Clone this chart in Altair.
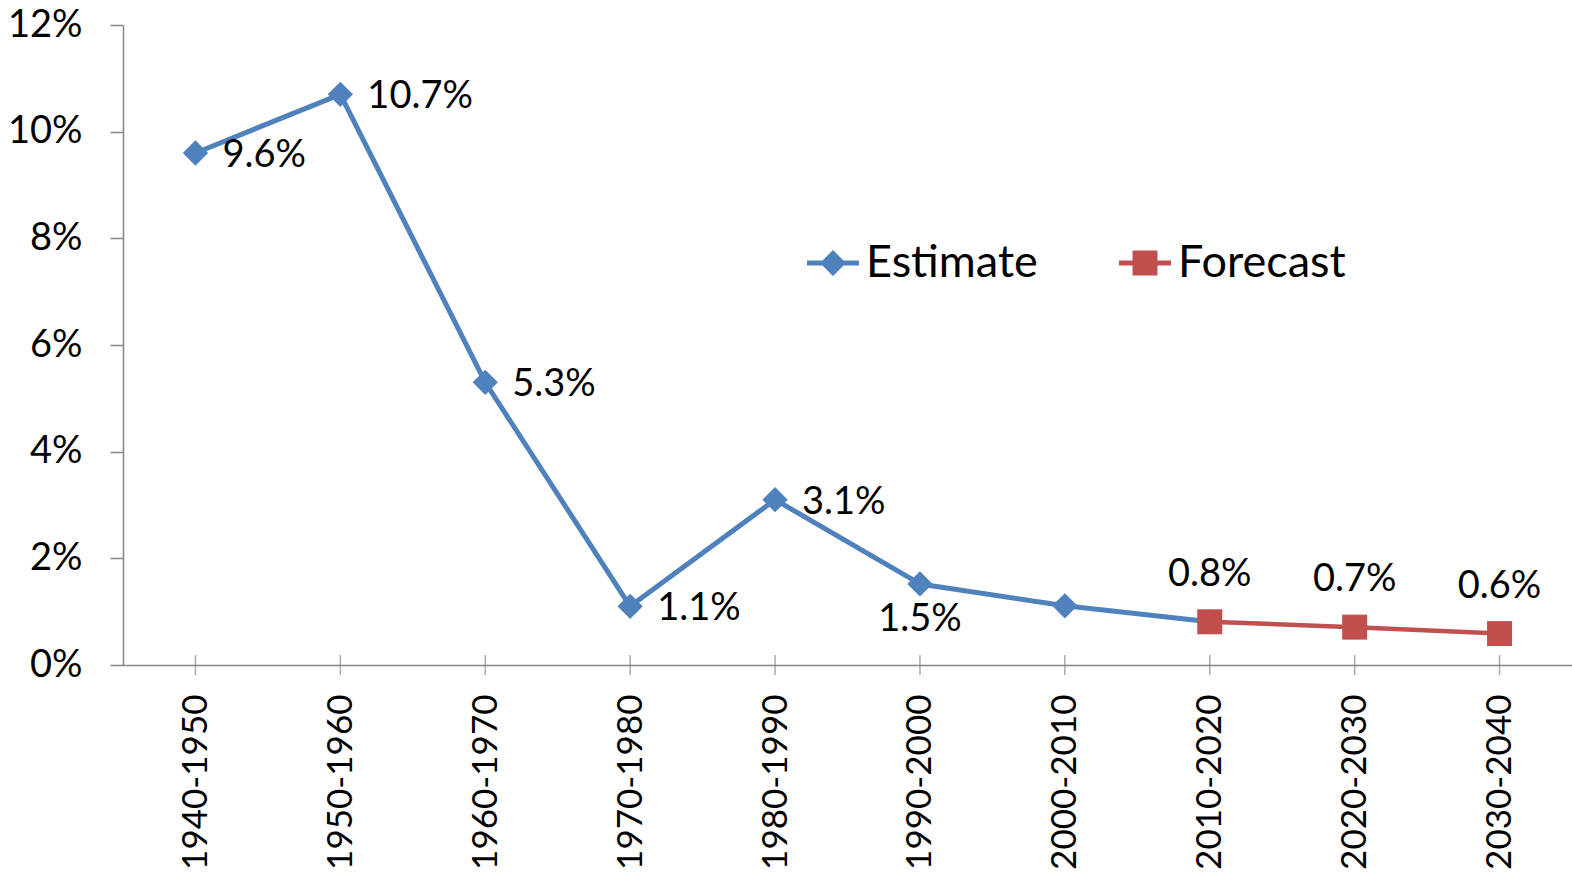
import altair as alt
import pandas as pd

categories = ["1940-1950", "1950-1960", "1960-1970", "1970-1980", "1980-1990",
              "1990-2000", "2000-2010", "2010-2020", "2020-2030", "2030-2040"]
estimate_categories = categories[:8]
estimate_values = [9.6, 10.7, 5.3, 1.1, 3.1, 1.52, 1.11, 0.81]
forecast_categories = categories[7:]
forecast_values = [0.81, 0.71, 0.59]

labels_right = categories[:5]
labels_below = ["1990-2000"]
labels_above = forecast_categories

BLUE = "#4F81BD"
RED = "#C0504D"
GRAY = "#868686"
FONT = "Lato"

est_df = pd.DataFrame({"category": estimate_categories, "value": estimate_values, "series": "Estimate"})
fc_df = pd.DataFrame({"category": forecast_categories, "value": forecast_values, "series": "Forecast"})
all_df = pd.concat([est_df.iloc[:-1], fc_df], ignore_index=True)

x_enc = alt.X(
    "category:N", sort=categories,
    scale=alt.Scale(type="point", padding=0.5, domain=categories),
    axis=alt.Axis(title=None, labelAngle=270, labelFont=FONT, labelFontSize=35,
                  labelColor="black", ticks=False, labelPadding=29, labelLimit=400,
                  domainColor=GRAY, domainWidth=1.5, grid=False),
)
y_enc = alt.Y(
    "value:Q",
    scale=alt.Scale(domain=[0, 12], nice=False, zero=True),
    axis=alt.Axis(title=None, values=[0, 2, 4, 6, 8, 10, 12], labelExpr="datum.value + '%'",
                  labelFont=FONT, labelFontSize=38, labelColor="black",
                  tickSize=13, tickColor=GRAY, tickWidth=1.5, labelPadding=28,
                  domainColor=GRAY, domainWidth=1.5, grid=False),
)

EST_PATH = "M-1,-0.1L1,-0.1L1,0.1L-1,0.1Z M-0.5,0L0,-0.5L0.5,0L0,0.5Z"
FC_PATH = "M-1,-0.1L1,-0.1L1,0.1L-1,0.1Z M-0.48,-0.48L0.48,-0.48L0.48,0.48L-0.48,0.48Z"

est_base = alt.Chart(est_df)
est_line = est_base.mark_line(color=BLUE, strokeWidth=5, strokeCap="round", strokeJoin="round").encode(x=x_enc, y=y_enc)
est_pts = est_base.mark_point(filled=True, shape="diamond", size=640, opacity=1).encode(
    x=x_enc, y=y_enc,
    color=alt.Color("series:N", scale=alt.Scale(domain=["Estimate"], range=[BLUE]),
                    legend=alt.Legend(title=None, orient="none", legendX=684, legendY=212,
                                      symbolType=EST_PATH, symbolSize=2704, symbolStrokeWidth=0,
                                      labelFont=FONT, labelFontSize=45, labelColor="black",
                                      labelOffset=7, padding=0, labelLimit=400)),
)
fc_base = alt.Chart(fc_df)
fc_line = fc_base.mark_line(color=RED, strokeWidth=4.5, strokeCap="round", strokeJoin="round").encode(x=x_enc, y=y_enc)
fc_pts = fc_base.mark_point(filled=True, shape="square", size=625, opacity=1).encode(
    x=x_enc, y=y_enc,
    color=alt.Color("series:N", scale=alt.Scale(domain=["Forecast"], range=[RED]),
                    legend=alt.Legend(title=None, orient="none", legendX=996, legendY=212,
                                      symbolType=FC_PATH, symbolSize=2704, symbolStrokeWidth=0,
                                      labelFont=FONT, labelFontSize=45, labelColor="black",
                                      labelOffset=7, padding=0, labelLimit=400)),
)

label_base = alt.Chart(all_df).transform_calculate(
    label="format(datum.value, '.1f') + '%'"
)
txt_right = label_base.transform_filter(
    alt.FieldOneOfPredicate(field="category", oneOf=labels_right)
).mark_text(align="left", baseline="middle", dx=27, dy=3, font=FONT, fontSize=38, color="black").encode(
    x=x_enc, y=y_enc, text="label:N")
txt_below = label_base.transform_filter(
    alt.FieldOneOfPredicate(field="category", oneOf=labels_below)
).mark_text(align="center", baseline="middle", dy=36, font=FONT, fontSize=38, color="black").encode(
    x=x_enc, y=y_enc, text="label:N")
txt_above = label_base.transform_filter(
    alt.FieldOneOfPredicate(field="category", oneOf=labels_above)
).mark_text(align="center", baseline="middle", dy=-47, font=FONT, fontSize=38, color="black").encode(
    x=x_enc, y=y_enc, text="label:N")

ticks = alt.Chart(pd.DataFrame({"category": categories})).mark_tick(
    orient="vertical", size=20, thickness=1.5, color=GRAY
).encode(x=x_enc, y=alt.datum(0))

chart = alt.layer(
    ticks,
    alt.layer(est_line, est_pts),
    alt.layer(fc_line, fc_pts),
    txt_right, txt_below, txt_above,
).resolve_scale(color="independent").properties(
    width=1449, height=640,
    autosize=alt.AutoSizeParams(type="none"),
    padding={"left": 123, "top": 25, "right": 0, "bottom": 215},
    background="white",
).configure_view(stroke=None)

chart.save("out.html", embed_options={"renderer": "svg", "actions": False})
